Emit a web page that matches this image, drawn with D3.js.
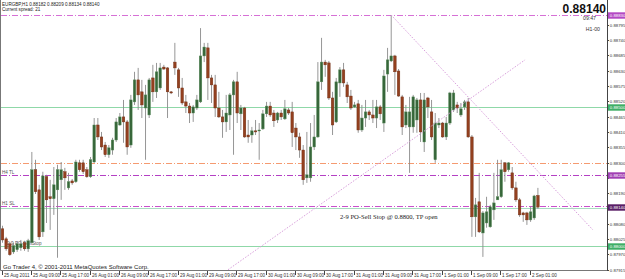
<!DOCTYPE html>
<html>
<head>
<meta charset="utf-8">
<script src="https://cdn.jsdelivr.net/npm/d3@7"></script>
<style>
  body { margin: 0; background: #fff; }
  svg text { font-family: "Liberation Sans", Arial, sans-serif; }
</style>
</head>
<body>
<div id="chart"></div>
<script>
// EURGBP H1 bars, 25 Aug 2011 01:00 .. 2 Sep 2011 03:00
var opens = [0.88062,0.88026,0.88008,0.87979,0.87987,0.87994,0.88012,0.87990,0.88012,0.88274,
  0.88202,0.88051,0.88249,0.88177,0.88170,0.88202,0.88238,0.88267,0.88209,0.88234,
  0.88231,0.88299,0.88299,0.88274,0.88249,0.88302,0.88435,0.88392,0.88363,0.88328,
  0.88345,0.88381,0.88435,0.88464,0.88446,0.88363,0.88518,0.88597,0.88554,0.88496,
  0.88471,0.88604,0.88554,0.88568,0.88643,0.88640,0.88554,0.88661,0.88633,0.88568,
  0.88518,0.88503,0.88478,0.88496,0.88518,0.88683,0.88712,0.88604,0.88579,0.88496,
  0.88464,0.88446,0.88471,0.88543,0.88590,0.88475,0.88496,0.88399,0.88399,0.88414,
  0.88414,0.88421,0.88475,0.88503,0.88478,0.88453,0.88478,0.88457,0.88489,0.88482,
  0.88424,0.88392,0.88345,0.88245,0.88245,0.88356,0.88392,0.88590,0.88661,0.88658,
  0.88532,0.88446,0.88586,0.88633,0.88579,0.88539,0.88500,0.88511,0.88417,0.88460,
  0.88482,0.88471,0.88460,0.88500,0.88442,0.88618,0.88665,0.88683,0.88629,0.88536,
  0.88435,0.88428,0.88428,0.88453,0.88525,0.88374,0.88532,0.88482,0.88310,0.88435,
  0.88442,0.88392,0.88442,0.88489,0.88507,0.88471,0.88500,0.88518,0.88392,0.88105,
  0.88159,0.88047,0.88083,0.88069,0.88130,0.88166,0.88177,0.88299,0.88274,0.88263,
  0.88209,0.88166,0.88119,0.88119,0.88094,0.88101,0.88182];

var highs = [0.88073,0.88033,0.88015,0.88012,0.88015,0.88022,0.88019,0.88026,0.88338,0.88310,
  0.88220,0.88267,0.88256,0.88238,0.88284,0.88292,0.88302,0.88281,0.88263,0.88241,
  0.88310,0.88310,0.88310,0.88284,0.88320,0.88460,0.88460,0.88410,0.88374,0.88363,
  0.88389,0.88460,0.88478,0.88525,0.88453,0.88543,0.88626,0.88640,0.88597,0.88579,
  0.88604,0.88651,0.88658,0.88658,0.88651,0.88643,0.88557,0.88730,0.88640,0.88604,
  0.88543,0.88514,0.88507,0.88543,0.88783,0.88730,0.88730,0.88615,0.88615,0.88554,
  0.88489,0.88543,0.88550,0.88597,0.88626,0.88507,0.88500,0.88453,0.88428,0.88453,
  0.88442,0.88489,0.88518,0.88518,0.88489,0.88482,0.88489,0.88525,0.88496,0.88518,
  0.88442,0.88407,0.88363,0.88410,0.88442,0.88471,0.88661,0.88748,0.88669,0.88665,
  0.88554,0.88604,0.88643,0.88658,0.88590,0.88561,0.88518,0.88525,0.88507,0.88525,
  0.88489,0.88525,0.88525,0.88507,0.88633,0.88712,0.88830,0.88687,0.88636,0.88543,
  0.88507,0.88536,0.88543,0.88532,0.88550,0.88550,0.88536,0.88525,0.88478,0.88460,
  0.88446,0.88464,0.88554,0.88561,0.88518,0.88514,0.88525,0.88532,0.88399,0.88173,
  0.88263,0.88126,0.88177,0.88148,0.88263,0.88310,0.88310,0.88302,0.88302,0.88284,
  0.88231,0.88173,0.88123,0.88123,0.88141,0.88184,0.88209];

var lows = [0.88012,0.87983,0.87965,0.87972,0.87979,0.87983,0.87983,0.87979,0.88004,0.88187,
  0.88022,0.88033,0.88083,0.88058,0.88112,0.87958,0.88166,0.88202,0.88202,0.88220,
  0.88227,0.88267,0.88259,0.88245,0.88245,0.88299,0.88381,0.88345,0.88320,0.88317,
  0.88328,0.88374,0.88432,0.88371,0.88328,0.88353,0.88507,0.88489,0.88460,0.88310,
  0.88460,0.88518,0.88532,0.88561,0.88633,0.88460,0.88546,0.88615,0.88536,0.88507,
  0.88478,0.88442,0.88446,0.88489,0.88514,0.88661,0.88525,0.88514,0.88464,0.88460,
  0.88389,0.88410,0.88417,0.88328,0.88442,0.88417,0.88389,0.88371,0.88371,0.88399,
  0.88310,0.88417,0.88464,0.88464,0.88428,0.88442,0.88453,0.88453,0.88471,0.88356,
  0.88345,0.88317,0.88220,0.88227,0.88231,0.88345,0.88389,0.88561,0.88608,0.88525,
  0.88399,0.88442,0.88536,0.88572,0.88514,0.88489,0.88496,0.88407,0.88410,0.88428,
  0.88453,0.88442,0.88424,0.88453,0.88410,0.88554,0.88661,0.88543,0.88536,0.88399,
  0.88424,0.88263,0.88407,0.88407,0.88374,0.88338,0.88460,0.88381,0.88299,0.88424,
  0.88389,0.88381,0.88435,0.88482,0.88478,0.88464,0.88489,0.88389,0.88033,0.88033,
  0.88047,0.87961,0.88066,0.88066,0.88094,0.88166,0.88173,0.88231,0.88267,0.88202,
  0.88159,0.88105,0.88087,0.88076,0.88087,0.88094,0.88134];

var closes = [0.88022,0.87990,0.87969,0.88001,0.88008,0.88008,0.87990,0.88019,0.88274,0.88195,
  0.88033,0.88252,0.88166,0.88170,0.88220,0.88274,0.88274,0.88245,0.88231,0.88227,
  0.88302,0.88274,0.88267,0.88249,0.88310,0.88435,0.88392,0.88356,0.88328,0.88353,
  0.88381,0.88446,0.88464,0.88446,0.88356,0.88525,0.88597,0.88543,0.88507,0.88543,
  0.88597,0.88554,0.88626,0.88640,0.88636,0.88554,0.88550,0.88640,0.88568,0.88514,
  0.88503,0.88478,0.88500,0.88525,0.88683,0.88715,0.88604,0.88579,0.88496,0.88464,
  0.88446,0.88478,0.88543,0.88590,0.88478,0.88496,0.88392,0.88392,0.88414,0.88410,
  0.88417,0.88475,0.88503,0.88471,0.88450,0.88478,0.88464,0.88493,0.88478,0.88407,
  0.88392,0.88345,0.88238,0.88256,0.88356,0.88392,0.88590,0.88661,0.88651,0.88532,
  0.88435,0.88590,0.88633,0.88586,0.88536,0.88496,0.88507,0.88417,0.88460,0.88482,
  0.88471,0.88460,0.88500,0.88475,0.88611,0.88669,0.88683,0.88626,0.88539,0.88428,
  0.88482,0.88482,0.88536,0.88525,0.88410,0.88525,0.88500,0.88392,0.88442,0.88442,
  0.88392,0.88442,0.88550,0.88550,0.88496,0.88493,0.88518,0.88392,0.88105,0.88148,
  0.88051,0.88119,0.88123,0.88141,0.88155,0.88177,0.88274,0.88267,0.88299,0.88209,
  0.88166,0.88112,0.88112,0.88094,0.88123,0.88180,0.88140];

// time axis: one label every 8 bars
var timeBars = [0,8,16,24,32,40,48,56,64,72,80,88,96,104,112,120,128,136,144];
var timeLabels = ["25 Aug 2011","25 Aug 09:00","25 Aug 17:00","26 Aug 01:00","26 Aug 09:00",
  "26 Aug 17:00","29 Aug 01:00","29 Aug 09:00","29 Aug 17:00","30 Aug 01:00","30 Aug 09:00",
  "30 Aug 17:00","31 Aug 01:00","31 Aug 09:00","31 Aug 17:00","1 Sep 01:00","1 Sep 09:00",
  "1 Sep 17:00","2 Sep 01:00"];

// price axis labels
var priceTicks = [0.88795,0.88740,0.88685,0.88630,0.88575,0.88520,0.88465,0.88410,0.88355,
  0.88300,0.88245,0.88190,0.88135,0.88080,0.88025,0.87970,0.87915];

// horizontal objects
var levelPrices = [0.88830, 0.88500, 0.88300, 0.88255, 0.88145, 0.88135, 0.88000];
var levelNames = ["", "", "", "H4 TL", "H1 SL", "", "2-9 PO-Sell Stop"];

// coloured price markers on the right scale
var markerPrices = [0.88830, 0.88500, 0.88255, 0.88140, 0.88000];

// trend lines: [bar, price] -> [bar, price]
var trendStart = [[61.5, 0.87915], [106, 0.88830]];
var trendEnd = [[142.5, 0.88669], [161, 0.88058]];

var symbolInfo = "EURGBP,H1  0.88182 0.88209 0.88134 0.88140";
var spreadInfo = "Current spread: 21";
var lastPrice = 0.88140;
var noteText = "2-9 PO-Sell Stop @ 0.8800, TP open";

var svgWidth = 625;
var svgHeight = 279;
var plotRight = 607;
var plotBottom = 270;

var svg = d3.select("#chart")
    .append("svg")
    .attr("width", svgWidth)
    .attr("height", svgHeight);

svg.append("rect")
    .attr("width", svgWidth)
    .attr("height", svgHeight)
    .attr("fill", "#fff");

var xScale = d3.scaleLinear()
    .domain([0, 146])
    .range([2.5, 537.9]);

var yScale = d3.scaleLinear()
    .domain([0.87914, 0.88884])
    .range([plotBottom, 0]);

var fmt = d3.format(".5f");
var bars = d3.range(opens.length).map(function(i) {
    return { i: i, o: opens[i], h: highs[i], l: lows[i], c: closes[i] };
});

// horizontal lines (under the bars)
var levelStyles = [
    { color: "#d670d6", dash: "6,2,1,2" },
    { color: "#8fd8a8", dash: null },
    { color: "#f59a70", dash: "6,2,1,2" },
    { color: "#b440c4", dash: "6,2,1,2" },
    { color: "#c850cc", dash: "6,2,1,2" },
    { color: "#a8dcc0", dash: null },
    { color: "#8fd8a8", dash: null }
];

var levelGroup = svg.append("g");
levelPrices.forEach(function(p, k) {
    var y = Math.round(yScale(p)) + 0.5;
    levelGroup.append("line")
        .attr("x1", 1).attr("x2", plotRight)
        .attr("y1", y).attr("y2", y)
        .attr("stroke", levelStyles[k].color)
        .attr("stroke-width", 1)
        .attr("stroke-dasharray", levelStyles[k].dash);
    if (levelNames[k]) {
        levelGroup.append("text")
            .attr("x", k == 6 ? 7 : 2)
            .attr("y", y - 1.5)
            .attr("font-size", "4.6px")
            .attr("fill", "#555")
            .text(levelNames[k]);
    }
});

// candles
var candleGroup = svg.append("g");

candleGroup.selectAll(".wick")
    .data(bars)
    .enter()
    .append("line")
    .attr("class", "wick")
    .attr("x1", d => xScale(d.i))
    .attr("x2", d => xScale(d.i))
    .attr("y1", d => yScale(d.h))
    .attr("y2", d => yScale(d.l))
    .attr("stroke", "#8a8a8a")
    .attr("stroke-width", 0.9);

candleGroup.selectAll(".body")
    .data(bars)
    .enter()
    .append("rect")
    .attr("class", "body")
    .attr("x", d => xScale(d.i) - 1.3)
    .attr("width", 2.6)
    .attr("y", d => yScale(Math.max(d.o, d.c)))
    .attr("height", d => Math.max(1, Math.abs(yScale(d.o) - yScale(d.c))))
    .attr("fill", d => d.c >= d.o ? "#37663a" : "#93401f")
    .attr("stroke", d => d.c >= d.o ? "#5b8f5d" : "#6e2c12")
    .attr("stroke-width", 0.4);

// trend lines
trendStart.forEach(function(s, k) {
    svg.append("line")
        .attr("x1", xScale(s[0])).attr("y1", yScale(s[1]))
        .attr("x2", xScale(trendEnd[k][0])).attr("y2", yScale(trendEnd[k][1]))
        .attr("stroke", "#d9a0dc")
        .attr("stroke-width", 1)
        .attr("stroke-dasharray", "1.5,1.5");
});

// note in the middle of the chart
svg.append("text")
    .attr("x", 340)
    .attr("y", 219)
    .attr("font-size", "6.6px")
    .attr("fill", "#222")
    .style("font-family", "'Liberation Serif', 'Times New Roman', serif")
    .text(noteText);

// frame
svg.append("line")
    .attr("x1", plotRight + 0.5).attr("x2", plotRight + 0.5)
    .attr("y1", 0).attr("y2", plotBottom + 0.5)
    .attr("stroke", "#444");
svg.append("line")
    .attr("x1", 0.5).attr("x2", plotRight + 0.5)
    .attr("y1", plotBottom + 0.5).attr("y2", plotBottom + 0.5)
    .attr("stroke", "#777");
svg.append("line")
    .attr("x1", 0.5).attr("x2", 0.5)
    .attr("y1", 0).attr("y2", plotBottom + 0.5)
    .attr("stroke", "#777");

// price scale
var priceAxis = svg.append("g");
var markerYs = markerPrices.map(p => yScale(p));
priceTicks.forEach(function(p) {
    var y = Math.round(yScale(p)) + 0.5;
    priceAxis.append("line")
        .attr("x1", plotRight).attr("x2", plotRight + 2)
        .attr("y1", y).attr("y2", y)
        .attr("stroke", "#444");
    // labels under a coloured marker are hidden
    if (markerYs.some(m => Math.abs(m - y) < 5)) return;
    priceAxis.append("text")
        .attr("x", plotRight + 2.8)
        .attr("y", y)
        .attr("dy", "0.35em")
        .attr("font-size", "4.3px")
        .attr("fill", "#333")
        .text(fmt(p));
});

var markerColors = ["#b449c4", "#3fae66", "#a13fb3", "#5a1f66", "#3fae66"];
markerPrices.forEach(function(p, k) {
    var y = Math.round(yScale(p)) + 0.5;
    priceAxis.append("rect")
        .attr("x", plotRight + 1)
        .attr("y", y - 3.2)
        .attr("width", svgWidth - plotRight - 1)
        .attr("height", 6.4)
        .attr("fill", markerColors[k]);
    priceAxis.append("text")
        .attr("x", plotRight + 2.8)
        .attr("y", y)
        .attr("dy", "0.35em")
        .attr("font-size", "4.3px")
        .attr("fill", "#fff")
        .text(fmt(p));
});

// time scale
var timeAxis = svg.append("g");
timeBars.forEach(function(b, k) {
    var x = Math.round(xScale(b)) - 0.5;
    timeAxis.append("line")
        .attr("x1", x).attr("x2", x)
        .attr("y1", plotBottom + 1).attr("y2", plotBottom + 5)
        .attr("stroke", "#444");
    timeAxis.append("text")
        .attr("x", x + 1.5)
        .attr("y", plotBottom + 7)
        .attr("font-size", "4.6px")
        .attr("fill", "#333")
        .text(timeLabels[k]);
});

// header texts
svg.append("text")
    .attr("x", 2).attr("y", 5.5)
    .attr("font-size", "4.6px").attr("fill", "#222")
    .text(symbolInfo);
svg.append("text")
    .attr("x", 2).attr("y", 10.5)
    .attr("font-size", "4.6px").attr("fill", "#222")
    .text(spreadInfo);

svg.append("text")
    .attr("x", 606).attr("y", 12.5)
    .attr("text-anchor", "end")
    .attr("font-size", "12px")
    .attr("font-weight", "bold")
    .attr("fill", "#111")
    .text(fmt(lastPrice));
svg.append("text")
    .attr("x", 596).attr("y", 20)
    .attr("text-anchor", "end")
    .attr("font-size", "5.2px").attr("fill", "#333")
    .text("09:47");
svg.append("text")
    .attr("x", 600).attr("y", 31)
    .attr("text-anchor", "end")
    .attr("font-size", "5.2px").attr("fill", "#333")
    .text("H1-00");

svg.append("text")
    .attr("x", 3).attr("y", 269)
    .attr("font-size", "6px").attr("fill", "#222")
    .text("Go Trader 4, \u00a9 2001-2011 MetaQuotes Software Corp.");
</script>
</body>
</html>
